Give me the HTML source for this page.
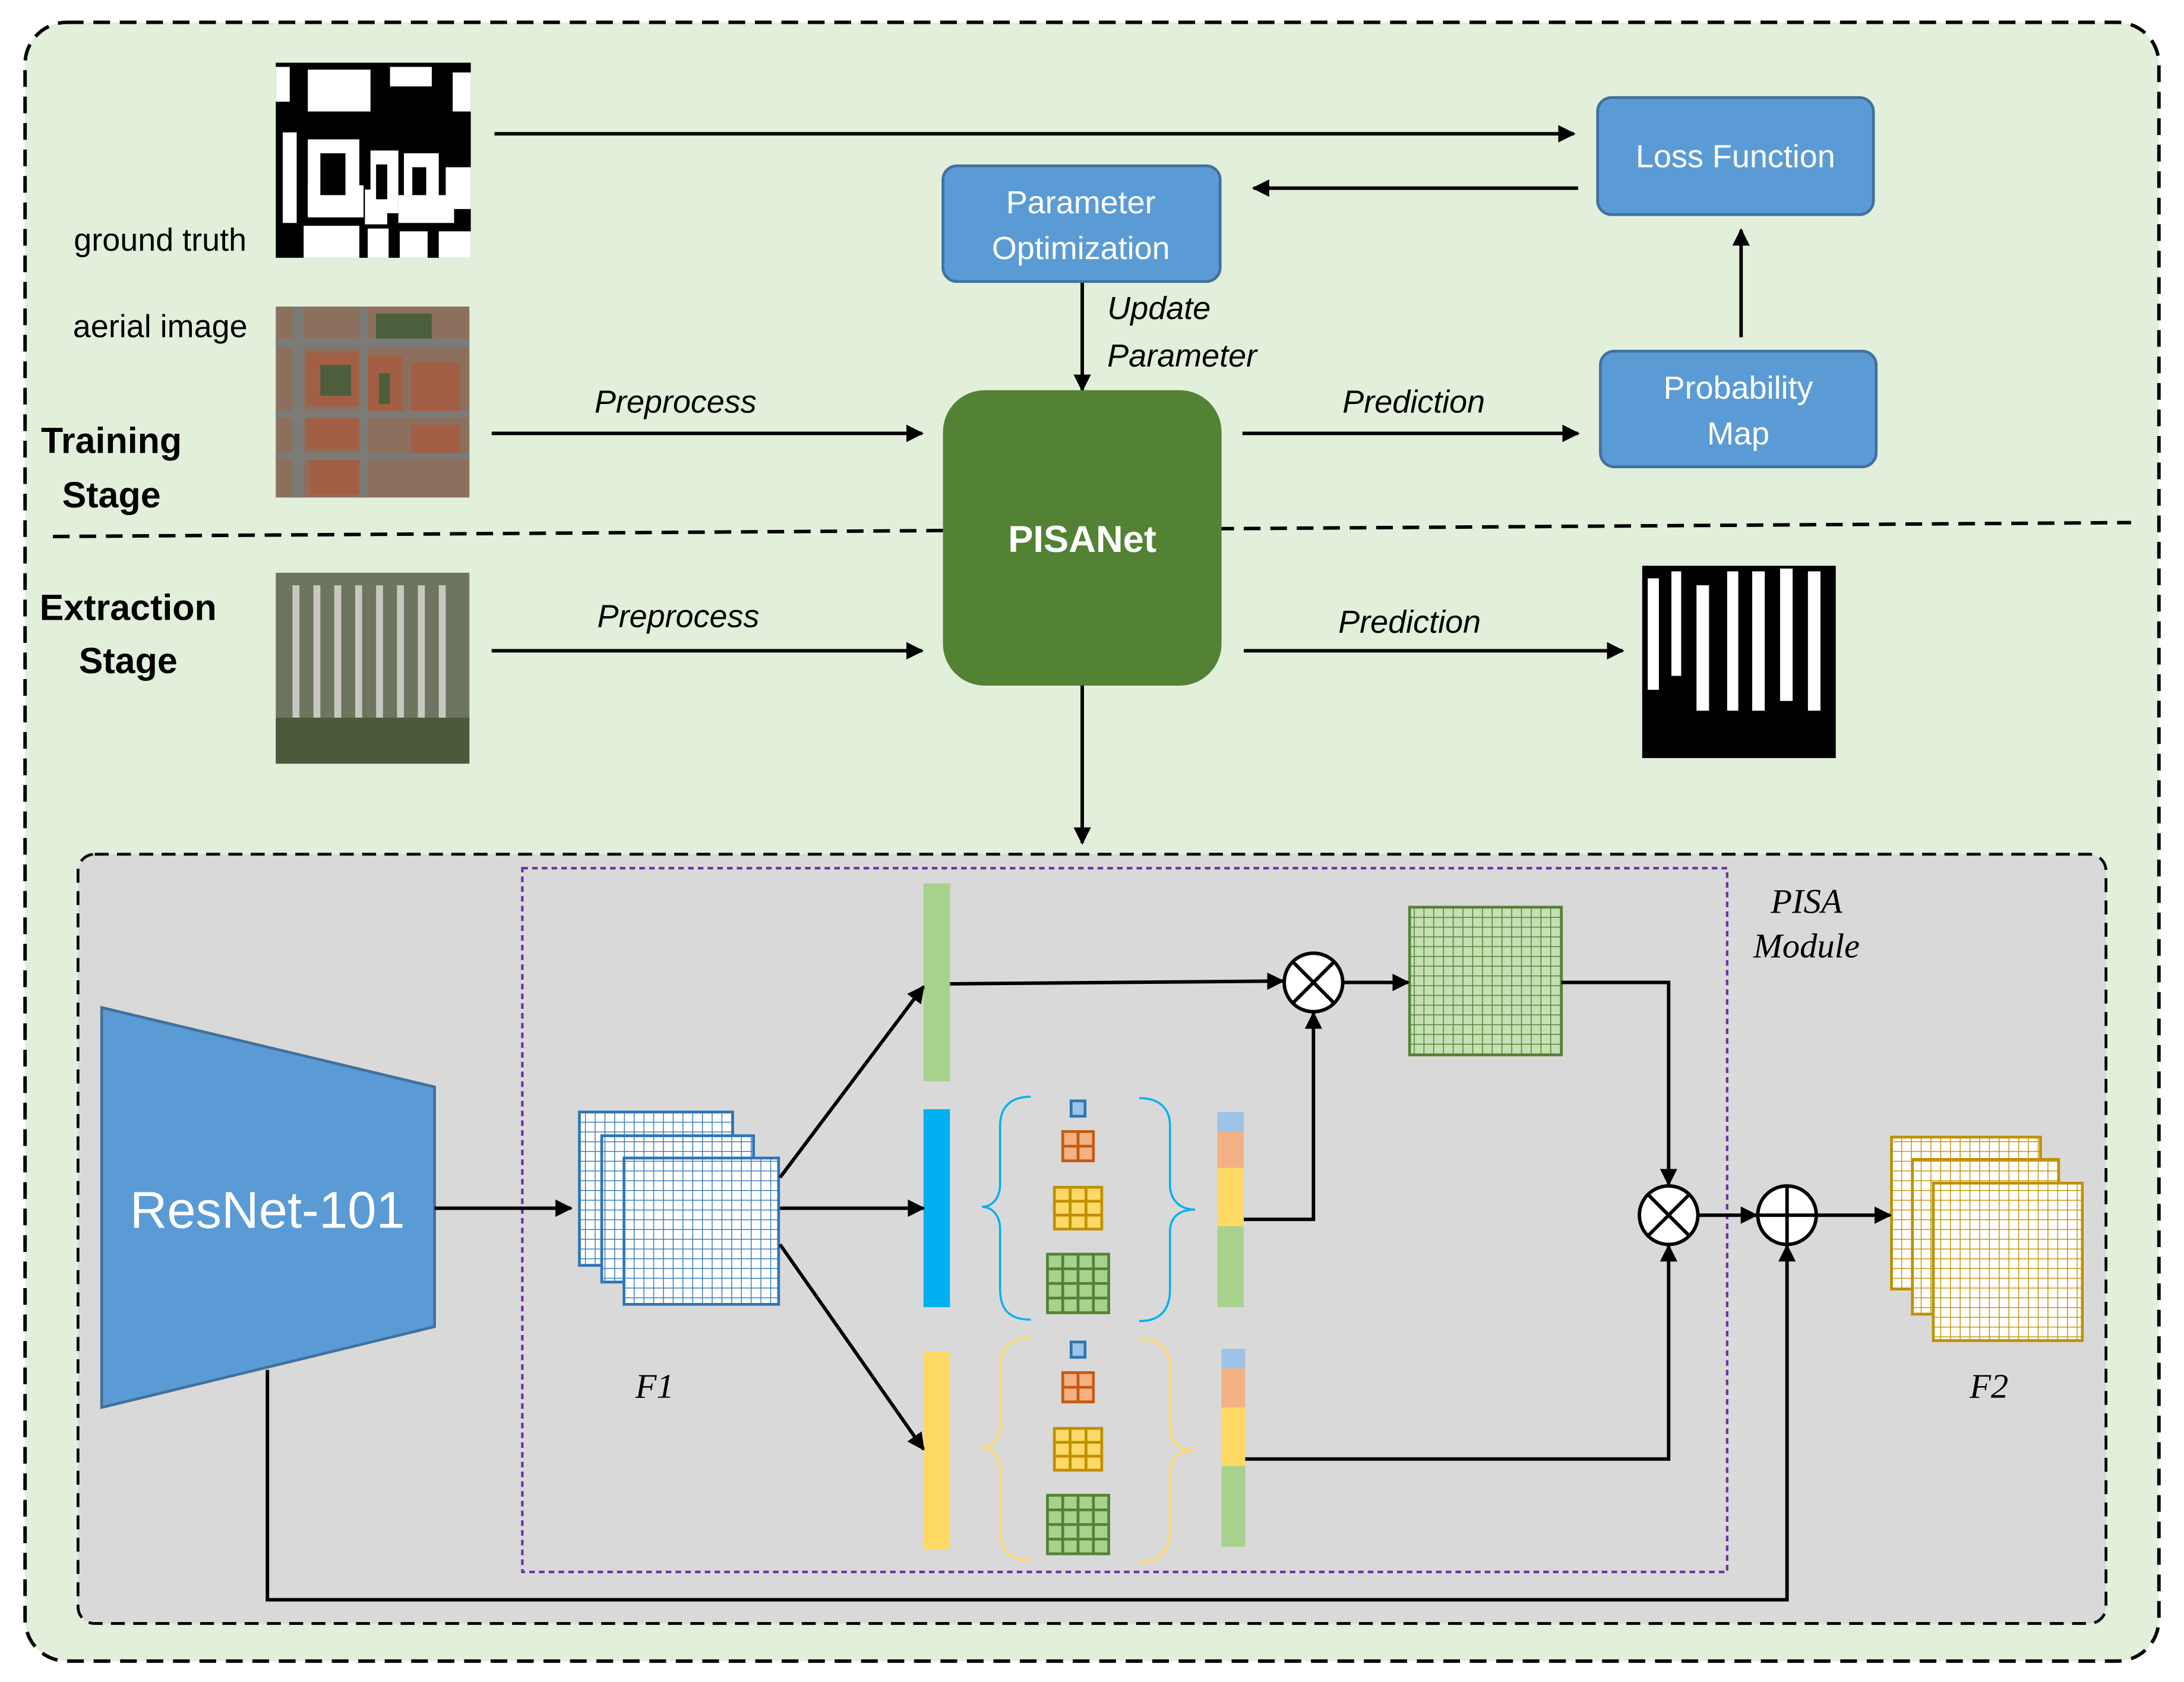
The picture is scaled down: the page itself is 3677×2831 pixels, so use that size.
<!DOCTYPE html>
<html><head><meta charset="utf-8"><style>html,body{margin:0;padding:0;background:#fff}svg{display:block}</style></head><body>
<svg width="3677" height="2831" viewBox="0 0 1568 1207" preserveAspectRatio="none" xmlns="http://www.w3.org/2000/svg" font-family="Liberation Sans, sans-serif">
<defs>
<marker id="a" viewBox="0 0 10 10" refX="9" refY="5" markerWidth="5" markerHeight="5" orient="auto"><path d="M0,0L10,5L0,10z" fill="#000"/></marker>
<pattern id="gb" width="7" height="7" patternUnits="userSpaceOnUse"><rect width="7" height="7" fill="#fff"/><path d="M0,0H7M0,0V7" stroke="#2e75b6" stroke-width="1.2"/></pattern>
<pattern id="gg" width="7" height="7" patternUnits="userSpaceOnUse"><rect width="7" height="7" fill="#c5e0b4"/><path d="M0,0H7M0,0V7" stroke="#548235" stroke-width="1.3"/></pattern>
<pattern id="gy" width="7" height="7" patternUnits="userSpaceOnUse"><rect width="7" height="7" fill="#fff"/><path d="M0,0H7M0,0V7" stroke="#bf9000" stroke-width="1.2"/></pattern>
<g id="sm">
<rect x="769" y="790" width="10" height="11" fill="#9dc3e6" stroke="#2e75b6" stroke-width="2"/>
<rect x="763" y="812" width="22" height="21" fill="#f4b183" stroke="#c55a11" stroke-width="2"/><path d="M774,812V833M763,822.5H785" stroke="#c55a11" stroke-width="2"/>
<rect x="757" y="852" width="34" height="30" fill="#ffd966" stroke="#bf9000" stroke-width="2"/><path d="M768.3,852V882M779.7,852V882M757,862H791M757,872H791" stroke="#bf9000" stroke-width="2"/>
<rect x="752" y="900" width="44" height="42" fill="#a9d18e" stroke="#548235" stroke-width="2"/><path d="M763,900V942M774,900V942M785,900V942M752,910.5H796M752,921H796M752,931.5H796" stroke="#548235" stroke-width="2"/>
</g>
</defs>
<rect x="18" y="16" width="1532" height="1176" rx="30" fill="#e2efda" stroke="#000" stroke-width="2.5" stroke-dasharray="12,7"/>
<path d="M38,385L1530,375" stroke="#000" stroke-width="2.5" stroke-dasharray="12,7"/>
<!-- ground truth -->
<rect x="198" y="45" width="140" height="140" fill="#000"/>
<g fill="#fff">
<rect x="198" y="48" width="10" height="25"/><rect x="221" y="50" width="45" height="30"/><rect x="280" y="48" width="30" height="14"/><rect x="325" y="52" width="13" height="28"/>
<rect x="203" y="95" width="10" height="65"/><rect x="221" y="100" width="37" height="55"/><rect x="266" y="108" width="20" height="45"/><rect x="290" y="110" width="25" height="40"/><rect x="320" y="120" width="18" height="30"/>
<rect x="221" y="133" width="40" height="23"/><rect x="262" y="136" width="16" height="25"/><rect x="286" y="140" width="40" height="20"/>
<rect x="218" y="162" width="40" height="23"/><rect x="264" y="164" width="15" height="21"/><rect x="287" y="166" width="20" height="19"/><rect x="315" y="166" width="23" height="19"/>
</g>
<g fill="#000"><rect x="230" y="110" width="18" height="30"/><rect x="270" y="118" width="8" height="25"/><rect x="296" y="120" width="10" height="20"/></g>
<!-- aerial -->
<rect x="198" y="220" width="139" height="137" fill="#8d6f5e"/>
<g fill="#a35f45"><rect x="220" y="253" width="38" height="38"/><rect x="264" y="255" width="25" height="40"/><rect x="295" y="260" width="35" height="35"/><rect x="220" y="300" width="40" height="22"/><rect x="295" y="305" width="35" height="25"/><rect x="222" y="330" width="40" height="25"/></g>
<g fill="#4d5e3c"><rect x="230" y="262" width="22" height="22"/><rect x="270" y="225" width="40" height="22"/><rect x="272" y="268" width="8" height="22"/></g>
<g fill="#7b7b78"><rect x="210" y="220" width="8" height="137"/><rect x="258" y="220" width="6" height="137"/><rect x="198" y="243" width="139" height="6"/><rect x="198" y="295" width="139" height="5"/><rect x="198" y="325" width="139" height="5"/></g>
<!-- extraction image -->
<rect x="198" y="411" width="139" height="137" fill="#6d7560"/>
<g fill="#c8c8c0"><rect x="210" y="420" width="5" height="95"/><rect x="225" y="420" width="5" height="95"/><rect x="240" y="420" width="5" height="95"/><rect x="255" y="420" width="5" height="95"/><rect x="270" y="420" width="5" height="95"/><rect x="285" y="420" width="5" height="95"/><rect x="300" y="420" width="5" height="95"/><rect x="315" y="420" width="5" height="95"/></g>
<g fill="#4b5a3a"><rect x="198" y="515" width="139" height="33"/></g>
<!-- output mask -->
<rect x="1179" y="406" width="139" height="138" fill="#000"/>
<g fill="#fff"><rect x="1183" y="415" width="8" height="80"/><rect x="1200" y="410" width="7" height="75"/><rect x="1218" y="420" width="9" height="90"/><rect x="1240" y="410" width="8" height="100"/><rect x="1258" y="410" width="9" height="100"/><rect x="1278" y="408" width="9" height="95"/><rect x="1298" y="410" width="9" height="100"/></g>
<!-- labels -->
<g font-size="23" fill="#000" text-anchor="middle">
<text x="115" y="180">ground truth</text><text x="115" y="242">aerial image</text>
<text x="80" y="325" font-weight="bold" font-size="26">Training</text><text x="80" y="364" font-weight="bold" font-size="26">Stage</text>
<text x="92" y="445" font-weight="bold" font-size="26">Extraction</text><text x="92" y="483" font-weight="bold" font-size="26">Stage</text>
<g font-style="italic"><text x="485" y="296">Preprocess</text><text x="487" y="450">Preprocess</text><text x="1015" y="296">Prediction</text><text x="1012" y="454">Prediction</text>
<text x="795" y="229" text-anchor="start">Update</text><text x="795" y="263" text-anchor="start">Parameter</text></g>
</g>
<g stroke="#000" stroke-width="2.5" fill="none" marker-end="url(#a)">
<path d="M355,96H1130"/><path d="M1133,135H900"/><path d="M777,202V280"/><path d="M353,311H662"/><path d="M892,311H1133"/><path d="M1250,242V165"/>
<path d="M353,467H662"/><path d="M893,467H1165"/><path d="M777,492V605"/>
</g>
<g stroke="#41719c" stroke-width="2" fill="#5b9bd5">
<rect x="1147" y="70" width="198" height="84" rx="10"/><rect x="677" y="119" width="199" height="83" rx="10"/><rect x="1149" y="252" width="198" height="83" rx="10"/>
</g>
<g fill="#fff" font-size="23" text-anchor="middle">
<text x="1246" y="120">Loss Function</text><text x="776" y="153">Parameter</text><text x="776" y="186">Optimization</text>
<text x="1248" y="286">Probability</text><text x="1248" y="319">Map</text>
</g>
<rect x="677" y="280" width="200" height="212" rx="30" fill="#548235"/>
<text x="777" y="396" fill="#fff" font-size="27" font-weight="bold" text-anchor="middle">PISANet</text>
<!-- bottom module -->
<rect x="56" y="613" width="1456" height="552" rx="12" fill="#d9d9d9" stroke="#000" stroke-width="2" stroke-dasharray="10,6"/>
<rect x="375" y="623" width="865" height="505" fill="none" stroke="#7030a0" stroke-width="1.8" stroke-dasharray="4,3"/>
<g font-family="Liberation Serif, serif" font-style="italic" font-size="25" text-anchor="middle">
<text x="1297" y="655">PISA</text><text x="1297" y="687">Module</text><text x="470" y="1003">F1</text><text x="1428" y="1003">F2</text>
</g>
<polygon points="73,723 312,780 312,952 73,1010" fill="#5b9bd5" stroke="#41719c" stroke-width="2"/>
<text x="192" y="881" fill="#fff" font-size="37" text-anchor="middle">ResNet-101</text>
<g stroke="#2e75b6" stroke-width="2"><rect x="416" y="798" width="110" height="110" fill="url(#gb)"/><rect x="432" y="815" width="109" height="105" fill="url(#gb)"/><rect x="448" y="831" width="111" height="105" fill="url(#gb)"/></g>
<rect x="663" y="634" width="19" height="142" fill="#a9d18e"/><rect x="663" y="796" width="19" height="142" fill="#00b0f0"/><rect x="663" y="970" width="19" height="142" fill="#ffd966"/>
<rect x="1012" y="651" width="109" height="106" fill="url(#gg)" stroke="#548235" stroke-width="2"/>
<g stroke="#bf9000" stroke-width="2"><rect x="1358" y="816" width="107" height="109" fill="url(#gy)"/><rect x="1373" y="832" width="105" height="111" fill="url(#gy)"/><rect x="1388" y="849" width="107" height="113" fill="url(#gy)"/></g>
<rect x="874" y="798" width="19" height="14" fill="#9dc3e6"/><rect x="874" y="812" width="19" height="26" fill="#f4b183"/><rect x="874" y="838" width="19" height="42" fill="#ffd966"/><rect x="874" y="880" width="19" height="58" fill="#a9d18e"/>
<rect x="877" y="968" width="17" height="14" fill="#9dc3e6"/><rect x="877" y="982" width="17" height="28" fill="#f4b183"/><rect x="877" y="1010" width="17" height="42" fill="#ffd966"/><rect x="877" y="1052" width="17" height="58" fill="#a9d18e"/>
<use href="#sm"/><use href="#sm" transform="translate(0,173)"/>
<g fill="none" stroke-width="1.5">
<path stroke="#00b0f0" d="M740,787C725,787 718,795 718,808V850C718,860 712,866 705,866C712,866 718,872 718,882V925C718,940 725,947 740,947"/>
<path stroke="#00b0f0" d="M818,788C833,788 840,796 840,808V850C840,860 846,868 858,868C846,868 840,874 840,884V925C840,940 833,948 818,948"/>
<path stroke="#ffd966" d="M740,960C725,960 718,968 718,981V1023C718,1033 712,1039 705,1039C712,1039 718,1045 718,1055V1098C718,1113 725,1120 740,1120"/>
<path stroke="#ffd966" d="M818,961C833,961 840,969 840,981V1023C840,1033 846,1041 858,1041C846,1041 840,1047 840,1057V1098C840,1113 833,1121 818,1121"/>
</g>
<g stroke="#000" stroke-width="2.5" fill="none">
<path d="M312,867H410" marker-end="url(#a)"/>
<path d="M560,845L663,708" marker-end="url(#a)"/><path d="M560,867H663" marker-end="url(#a)"/><path d="M560,893L663,1040" marker-end="url(#a)"/>
<path d="M682,706L921,704" marker-end="url(#a)"/><path d="M965,705H1011" marker-end="url(#a)"/>
<path d="M1121,705H1198V850" marker-end="url(#a)"/><path d="M893,875H943V727" marker-end="url(#a)"/><path d="M894,1047H1198V894" marker-end="url(#a)"/>
<path d="M1219,872H1261" marker-end="url(#a)"/><path d="M1304,872H1357" marker-end="url(#a)"/>
<path d="M192,983V1148H1283V894" marker-end="url(#a)"/>
<circle cx="943" cy="705" r="21" fill="#fff"/><path d="M928,690L958,720M958,690L928,720"/>
<circle cx="1198" cy="872" r="21" fill="#fff"/><path d="M1183,857L1213,887M1213,857L1183,887"/>
<circle cx="1283" cy="872" r="21" fill="#fff"/><path d="M1262,872H1304M1283,851V893"/>
</g>
</svg>
</body></html>
